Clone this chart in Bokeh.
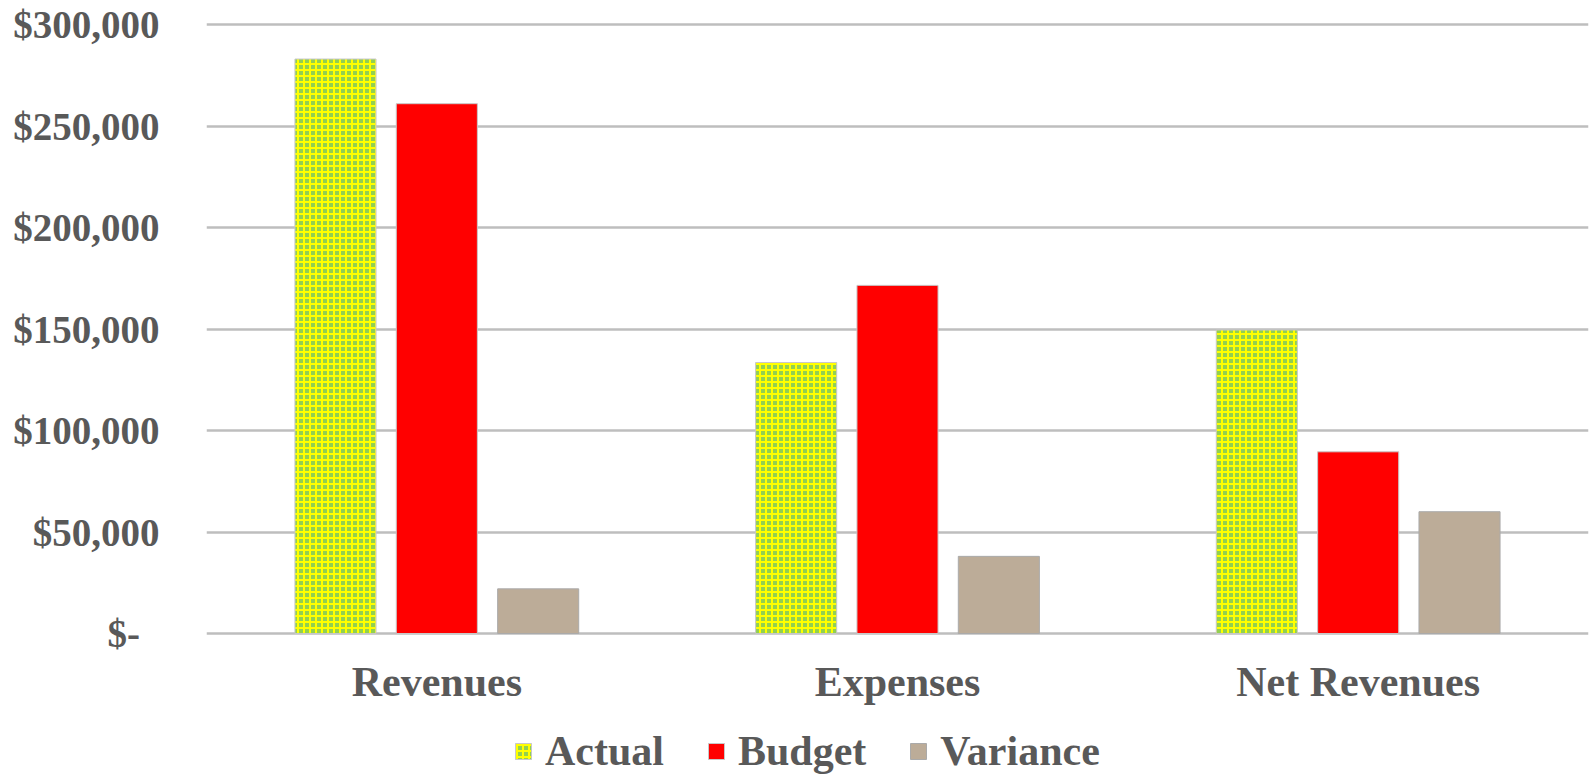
from bokeh.plotting import figure
from bokeh.models import (ColumnDataSource, FactorRange, Range1d, Legend, LegendItem,
                          CustomJSTickFormatter, FixedTicker)
from bokeh.transform import dodge
from bokeh.core.properties import value
from bokeh.embed import file_html
from bokeh.resources import INLINE

categories = ["Revenues", "Expenses", "Net Revenues"]
actual = [283000, 133500, 149500]
budget = [261000, 171500, 89500]
variance = [22000, 38000, 60000]
series = ["Actual", "Budget", "Variance"]
y_ticks = [0, 50000, 100000, 150000, 200000, 250000, 300000]

FONT = "Liberation Serif"
TXT = "#595959"

# layout (pixels)
W_PX, H_PX = 1593, 776
TOP = 22            # frame top
ZERO_Y = 633        # pixel row of value 0
Y_END = 301000
unit_per_px = Y_END / (ZERO_Y - TOP)
y_start = -(H_PX - ZERO_Y) * unit_per_px
label_y = -48 * unit_per_px

src = ColumnDataSource(dict(cat=categories, actual=actual, budget=budget, variance=variance,
                            ly=[label_y] * len(categories)))

p = figure(width=W_PX, height=H_PX,
           x_range=FactorRange(*categories, range_padding=0),
           y_range=Range1d(y_start, Y_END),
           output_backend="svg", toolbar_location=None,
           min_border_left=206, min_border_right=5, min_border_top=TOP, min_border_bottom=0)
p.outline_line_color = None
p.background_fill_color = "white"
p.border_fill_color = "white"
p.xaxis.visible = False

W = 0.176
r_act = p.vbar(x=dodge("cat", -0.22, range=p.x_range), top="actual", width=W, source=src,
               fill_color="#92d050", line_color="#c8c8c8", line_width=1,
               hatch_pattern="cross", hatch_color="#ffff00", hatch_scale=6, hatch_weight=2)
r_bud = p.vbar(x=dodge("cat", 0.0, range=p.x_range), top="budget", width=W, source=src,
               fill_color="#ff0000", line_color="#c8c8c8", line_width=1)
r_var = p.vbar(x=dodge("cat", 0.22, range=p.x_range), top="variance", width=W, source=src,
               fill_color="#bcac98", line_color="#aaaaaa", line_width=1)

# category labels
p.text(x="cat", y="ly", text="cat", source=src, text_align="center", text_baseline="middle",
       text_font=value(FONT), text_font_style="bold", text_font_size="42px", text_color=TXT)

p.yaxis.ticker = FixedTicker(ticks=y_ticks)
p.yaxis.formatter = CustomJSTickFormatter(
    code="return tick == 0 ? '$-\\u00a0\\u00a0' : '$' + tick.toLocaleString('en-US');")
p.yaxis.axis_line_color = None
p.yaxis.major_tick_line_color = None
p.yaxis.minor_tick_line_color = None
p.yaxis.major_label_text_font = FONT
p.yaxis.major_label_text_font_style = "bold"
p.yaxis.major_label_text_font_size = "39px"
p.yaxis.major_label_text_color = TXT
p.yaxis.major_label_standoff = 41

p.xgrid.grid_line_color = None
p.ygrid.ticker = FixedTicker(ticks=y_ticks)
p.ygrid.grid_line_color = "#bebebe"
p.ygrid.grid_line_width = 2.5

legend = Legend(items=[LegendItem(label=series[0], renderers=[r_act]),
                       LegendItem(label=series[1], renderers=[r_bud]),
                       LegendItem(label=series[2], renderers=[r_var])],
                orientation="horizontal", location=(307, 1),
                label_text_font=FONT, label_text_font_style="bold",
                label_text_font_size="42px", label_text_color=TXT,
                glyph_width=20, glyph_height=20, label_standoff=12, spacing=42,
                padding=0, margin=0, border_line_color=None, background_fill_alpha=0)
p.add_layout(legend, "center")

open("out.html", "w").write(file_html(p, INLINE))
